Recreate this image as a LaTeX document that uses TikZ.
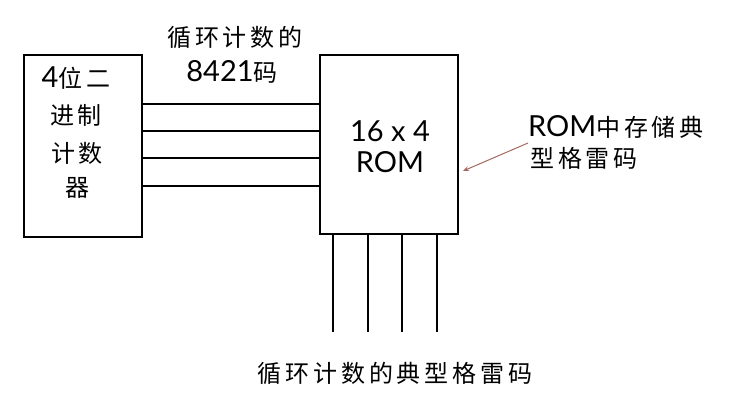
\documentclass[tikz,border=0pt]{standalone}
\usepackage{fontspec}
\setmainfont{Lato}
\newfontfamily\cjk[LetterSpace=16]{Noto Sans CJK SC}
\newcommand{\lat}{\fontsize{29}{29}\selectfont}
\newcommand{\zh}[1]{{\cjk\fontsize{24}{24}\selectfont #1}}
\usetikzlibrary{arrows.meta}
\begin{document}
\begin{tikzpicture}[x=1pt,y=-1pt]
    \tikzstyle{box}=[draw=black, line width=2pt, inner sep=0pt]
    \tikzstyle{txt}=[inner sep=0pt, font=\lat]
    \useasboundingbox (0,0) rectangle (742,405);
    \begin{scope}
        \node[box, minimum width=118pt, minimum height=182pt] (cnt) at (83,146) {};
        \node[box, minimum width=138pt, minimum height=179pt] (rom) at (389,144.5) {};
        \node[txt] (cnt1) at (76,78) {4\zh{位二}};
        \node[txt] (cnt2) at (76,115) {\zh{进制}};
        \node[txt] (cnt3) at (77,153) {\zh{计数}};
        \node[txt] (cnt4) at (77,188) {\zh{器}};
        \node[txt] (rom1) at (390,131) {16 x 4};
        \node[txt] (rom2) at (390,162) {ROM};
        \node[txt] (in1) at (235,37) {\zh{循环计数的}};
        \node[txt] (in2) at (232,72) {8421\zh{码}};
        \node[txt, anchor=west] (note1) at (528,127) {ROM\zh{中存储典}};
        \node[txt, anchor=west] (note2) at (530,158) {\zh{型格雷码}};
        \node[txt] (out) at (395,373) {\zh{循环计数的典型格雷码}};
    \end{scope}
    \begin{scope}
        \tikzstyle{wire}=[draw, line width=2pt]
        \foreach \y in {104,131,158,186}
            \path[wire] (cnt.east |- 0,\y) -- (rom.west |- 0,\y);
        \foreach \x in {333,368,402,437}
            \path[wire] (rom.south -| \x,0) -- (\x,332);
        \coordinate (tail) at (528,143);
        \coordinate (tip) at (463,171);
        \draw[color={rgb,255:red,165;green,105;blue,95}, line width=1pt, -{Stealth[length=6pt,width=5pt]}] (tail) -- (tip);
    \end{scope}
\end{tikzpicture}
\end{document}
